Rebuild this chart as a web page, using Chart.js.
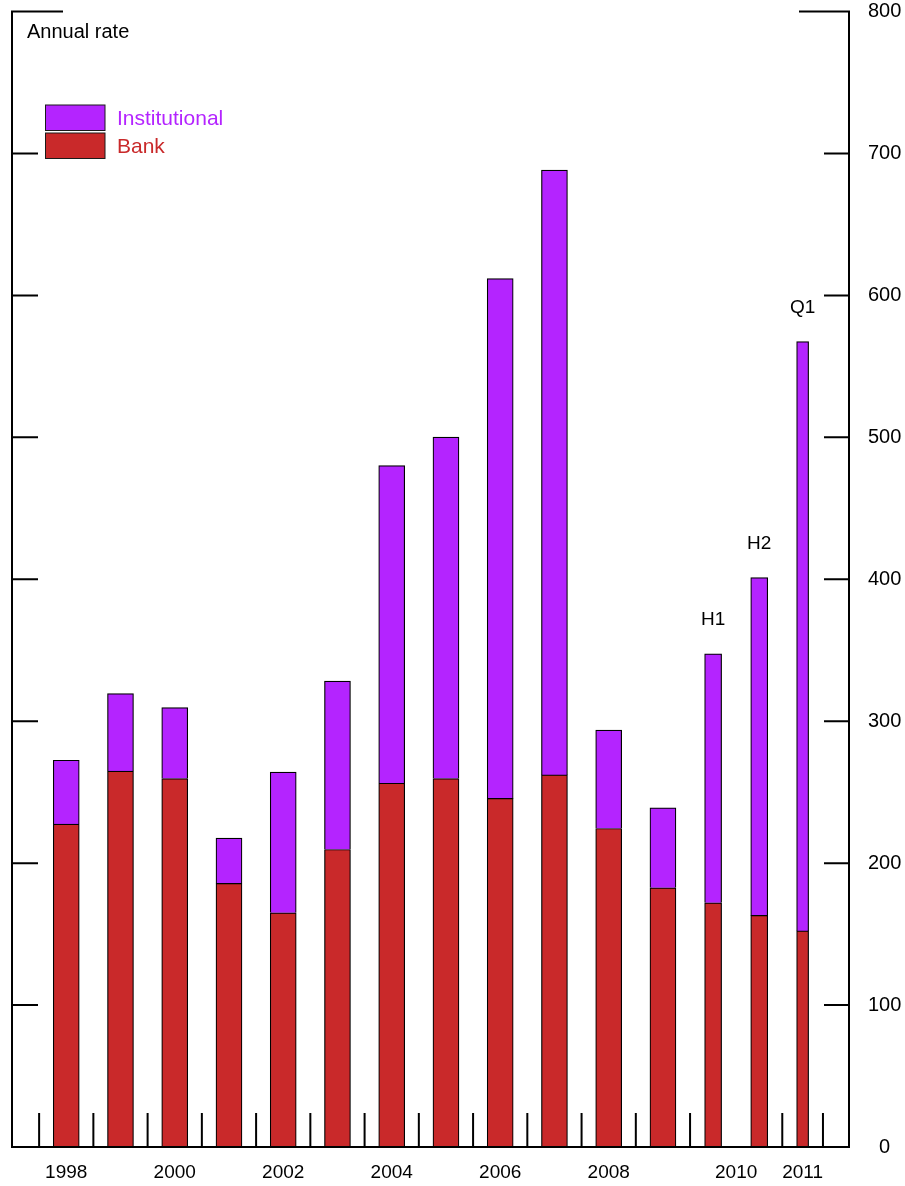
<!DOCTYPE html>
<html>
<head>
<meta charset="utf-8">
<script src="https://cdn.jsdelivr.net/npm/chart.js@4.4.1/dist/chart.umd.min.js"></script>
<style>
  html, body { margin: 0; padding: 0; background: #fff; }
  #wrap { width: 905px; height: 1186px; position: relative; }
</style>
</head>
<body>
<div id="wrap"><canvas id="chart"></canvas></div>
<script>
// ─── data ────────────────────────────────────────────────────────────────────
const periods    = ['1998','1999','2000','2001','2002','2003','2004','2005','2006','2007','2008','2009','2010 H1','2010 H2','2011 Q1'];
const periodPos  = [0.5, 1.5, 2.5, 3.5, 4.5, 5.5, 6.5, 7.5, 8.5, 9.5, 10.5, 11.5, 12.425, 13.275, 14.075];
const periodNote = ['', '', '', '', '', '', '', '', '', '', '', '', 'H1', 'H2', 'Q1'];
const bank          = [227.5, 264.8, 259.6, 185.7, 165.0, 209.6, 256.3, 259.6, 245.6, 262.2, 224.4, 182.6, 172.0, 163.2, 152.3];
const institutional = [ 45.0,  54.7,  50.0,  31.9,  99.1, 118.6, 223.8, 240.6, 366.2, 426.0,  69.3,  56.3, 175.4, 238.0, 415.1];

const xLabels   = ['1998', '2000', '2002', '2004', '2006', '2008', '2010', '2011'];
const xLabelPos = [0.5, 2.5, 4.5, 6.5, 8.5, 10.5, 12.85, 14.075];
const yearEdges = [0, 1, 2, 3, 4, 5, 6, 7, 8, 9, 10, 11, 12, 13.7, 14.45];
const yTicks    = [0, 100, 200, 300, 400, 500, 600, 700, 800];

// annual / half-year / quarter bars are drawn at different widths
const barGroups = [
  { from: 0,  to: 12, thick: 26 },
  { from: 12, to: 14, thick: 17 },
  { from: 14, to: 15, thick: 12 },
];

const FONT   = "'Liberation Sans', Arial, Helvetica, sans-serif";
const C_BANK = '#c9292a';
const C_INST = '#b424ff';

const pts = (vals, g) => vals.slice(g.from, g.to).map((v, i) => ({ x: periodPos[g.from + i], y: v }));
const mkSet = (label, vals, color, g) => ({
  label, data: pts(vals, g), backgroundColor: color,
  borderColor: '#000', borderWidth: 1.2, barThickness: g.thick, stack: 'all',
});

const datasets = [
  ...barGroups.map(g => mkSet('Bank', bank, C_BANK, g)),
  ...barGroups.map(g => mkSet('Institutional', institutional, C_INST, g)),
];

// ─── frame, inward ticks, legend, notes ──────────────────────────────────────
const framePlugin = {
  id: 'frame',
  afterDraw(chart) {
    const { ctx, chartArea: { left, right, bottom }, scales: { x, y } } = chart;
    const top = y.getPixelForValue(800);
    ctx.save();
    ctx.strokeStyle = '#000';
    ctx.lineWidth = 2;
    ctx.lineJoin = 'miter';

    ctx.beginPath();
    ctx.moveTo(left + 51, top);
    ctx.lineTo(left, top);
    ctx.lineTo(left, bottom);
    ctx.lineTo(right, bottom);
    ctx.lineTo(right, top);
    ctx.lineTo(right - 50, top);
    ctx.stroke();

    ctx.beginPath();
    yTicks.filter(v => v > 0 && v < 800).forEach(v => {
      const py = y.getPixelForValue(v);
      ctx.moveTo(left, py);  ctx.lineTo(left + 26, py);
      ctx.moveTo(right - 25, py); ctx.lineTo(right, py);
    });
    yearEdges.forEach(e => {
      const px = x.getPixelForValue(e);
      ctx.moveTo(px, bottom); ctx.lineTo(px, bottom - 34);
    });
    ctx.stroke();

    // unit note
    ctx.fillStyle = '#000';
    ctx.font = `20px ${FONT}`;
    ctx.textAlign = 'left';
    ctx.textBaseline = 'alphabetic';
    ctx.fillText('Annual rate', 27, 38);

    // legend
    ctx.lineWidth = 1;
    ctx.strokeStyle = '#1a1a1a';
    [[C_INST, 'Institutional', 105], [C_BANK, 'Bank', 133]].forEach(([col, txt, by]) => {
      ctx.fillStyle = col;
      ctx.fillRect(45.5, by, 59.5, 25.5);
      ctx.strokeRect(45.5, by, 59.5, 25.5);
      ctx.font = `21px ${FONT}`;
      ctx.fillText(txt, 117, by + 20);
    });

    // sub-period notes above the bars
    ctx.fillStyle = '#000';
    ctx.font = `19px ${FONT}`;
    ctx.textAlign = 'center';
    barGroups.forEach((g, gi) => {
      const meta = chart.getDatasetMeta(barGroups.length + gi);
      meta.data.forEach((el, j) => {
        const note = periodNote[g.from + j];
        if (note) ctx.fillText(note, el.x, el.y - 29);
      });
    });
    ctx.restore();
  }
};

new Chart(document.getElementById('chart'), {
  type: 'bar',
  data: { datasets },
  options: {
    responsive: true,
    maintainAspectRatio: false,
    animation: false,
    layout: { padding: { top: 11.5, left: 12, right: 0, bottom: 0 } },
    plugins: { legend: { display: false }, tooltip: { enabled: false } },
    scales: {
      x: {
        type: 'linear', min: -0.5, max: 14.93, offset: false,
        grid: { display: false }, border: { display: false },
        afterBuildTicks: s => { s.ticks = xLabelPos.map(v => ({ value: v })); },
        afterFit: s => { s.height = 39; s.paddingLeft = 0; s.paddingRight = 0; },
        ticks: {
          autoSkip: false, maxRotation: 0, padding: 6, color: '#000',
          font: { family: FONT, size: 19 },
          callback: (v, i) => xLabels[i],
        },
      },
      y: {
        position: 'right', stacked: true, min: 0, max: 800,
        grid: { display: false }, border: { display: false },
        afterBuildTicks: s => { s.ticks = yTicks.map(v => ({ value: v })); },
        afterFit: s => { s.width = 56; s.paddingTop = 0; s.paddingBottom = 0; },
        ticks: { crossAlign: 'center', padding: 11, color: '#000', font: { family: FONT, size: 20 } },
      },
    },
  },
  plugins: [framePlugin],
});
</script>
</body>
</html>
